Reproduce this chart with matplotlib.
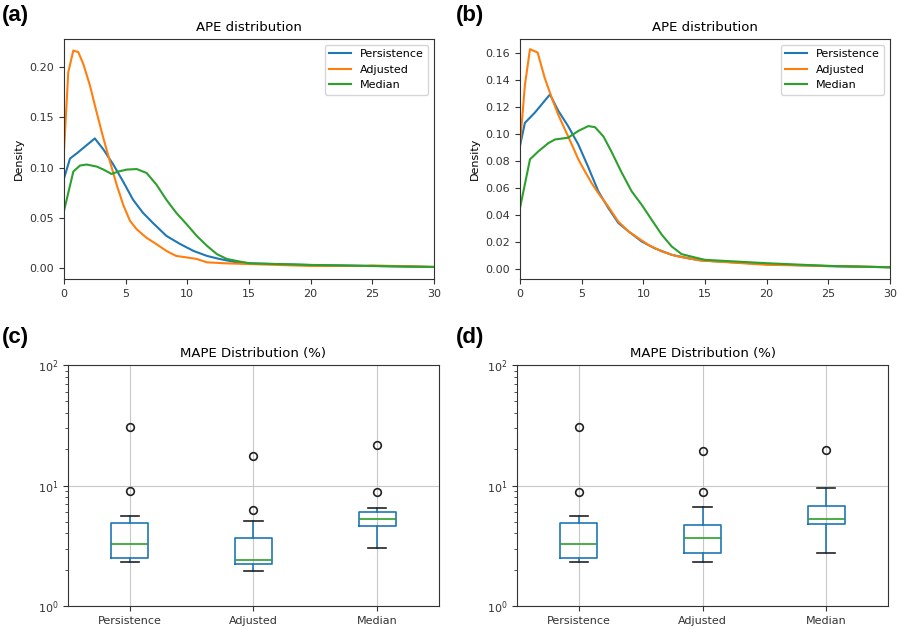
import matplotlib
matplotlib.use("Agg")
import matplotlib.pyplot as plt

plt.rcParams["font.size"] = 8
plt.rcParams["axes.edgecolor"] = "#333333"
plt.rcParams["xtick.color"] = "#333333"
plt.rcParams["ytick.color"] = "#333333"

series_names = ["Persistence", "Adjusted", "Median"]
line_colors = ["#1f77b4", "#ff7f0e", "#2ca02c"]

# (a) APE density curves
a_pers_x = [0, 0.49, 1.03, 2.5, 3.2, 4.0, 4.8, 5.6, 6.4, 7.2, 8.3, 9.4, 10.5, 11.6, 12.6, 14.0, 15.1, 20, 25, 30]
a_pers_y = [0.089, 0.109, 0.114, 0.129, 0.118, 0.103, 0.086, 0.068, 0.055, 0.045, 0.032, 0.024, 0.017, 0.012, 0.009, 0.0056, 0.0046, 0.003, 0.002, 0.001]
a_adj_x = [0, 0.35, 0.76, 1.16, 1.57, 2.1, 2.65, 3.2, 3.73, 4.27, 4.8, 5.35, 5.9, 6.7, 7.5, 8.3, 9.1, 9.95, 10.76, 11.6, 13.2, 14.8, 20, 24.5, 25, 30]
a_adj_y = [0.116, 0.195, 0.2165, 0.215, 0.203, 0.182, 0.155, 0.129, 0.106, 0.083, 0.063, 0.047, 0.0385, 0.030, 0.0237, 0.017, 0.012, 0.0105, 0.009, 0.0056, 0.0046, 0.004, 0.002, 0.002, 0.0025, 0.001]
a_med_x = [0, 0.76, 1.3, 1.84, 2.65, 3.2, 3.86, 4.4, 5.1, 5.9, 6.7, 7.5, 8.3, 9.1, 9.95, 10.76, 11.6, 12.4, 13.2, 14.3, 15.1, 20, 25, 30]
a_med_y = [0.0567, 0.096, 0.102, 0.103, 0.101, 0.098, 0.0936, 0.096, 0.098, 0.0985, 0.0946, 0.083, 0.068, 0.055, 0.0435, 0.032, 0.022, 0.0138, 0.009, 0.0063, 0.0046, 0.003, 0.002, 0.001]

# (b) APE density curves
b_pers_x = [0, 0.4, 1.2, 2.43, 3.1, 3.9, 4.73, 5.5, 6.35, 7.16, 7.97, 8.8, 9.86, 10.9, 12.3, 13.6, 14.7, 20, 25, 30]
b_pers_y = [0.091, 0.108, 0.1155, 0.129, 0.117, 0.1056, 0.092, 0.076, 0.0574, 0.045, 0.034, 0.0277, 0.0203, 0.0153, 0.0104, 0.0079, 0.0062, 0.0035, 0.002, 0.0012]
b_adj_x = [0, 0.4, 0.81, 1.43, 2.0, 2.57, 3.1, 3.65, 4.2, 4.73, 5.27, 5.8, 6.35, 7.16, 7.97, 8.8, 9.6, 10.4, 11.5, 12.6, 13.6, 14.7, 20, 25, 30]
b_adj_y = [0.092, 0.136, 0.1625, 0.160, 0.1414, 0.1266, 0.114, 0.103, 0.092, 0.081, 0.072, 0.0636, 0.056, 0.046, 0.035, 0.0277, 0.0227, 0.0178, 0.0129, 0.0096, 0.0079, 0.0062, 0.003, 0.0022, 0.0012]
b_med_x = [0, 0.81, 1.5, 2.3, 2.84, 3.9, 4.73, 5.54, 6.08, 6.76, 7.4, 8.2, 9.05, 9.86, 10.7, 11.5, 12.3, 13.1, 14.2, 15.0, 20, 25, 30]
b_med_y = [0.045, 0.081, 0.087, 0.093, 0.0957, 0.097, 0.102, 0.1056, 0.1048, 0.098, 0.087, 0.072, 0.0574, 0.0475, 0.036, 0.0252, 0.0166, 0.0109, 0.0084, 0.0067, 0.0042, 0.0022, 0.0012]

# (c) / (d) MAPE box statistics: whislo, q1, med, q3, whishi, outliers
c_whislo = [2.31, 1.97, 3.03]
c_q1 = [2.52, 2.22, 4.65]
c_med = [3.25, 2.43, 5.25]
c_q3 = [4.86, 3.67, 6.0]
c_whishi = [5.63, 5.05, 6.52]
c_fliers = [[8.97, 30.5], [6.24, 17.6], [8.75, 21.8]]

d_whislo = [2.31, 2.31, 2.74]
d_q1 = [2.52, 2.74, 4.83]
d_med = [3.25, 3.70, 5.25]
d_q3 = [4.86, 4.74, 6.78]
d_whishi = [5.63, 6.65, 9.56]
d_fliers = [[8.9, 30.5], [8.75, 19.5], [19.9]]


def density_panel(ax, curves, ylim, yticks):
    for (xs, ys), name, col in zip(curves, series_names, line_colors):
        ax.plot(xs, ys, color=col, lw=1.5, label=name)
    ax.set_xlim(0, 30)
    ax.set_ylim(*ylim)
    ax.set_yticks(yticks)
    ax.set_ylabel("Density")
    ax.set_title("APE distribution", fontsize=9.5)
    ax.legend(loc="upper right", fontsize=8)


def box_panel(ax, whislo, q1, med, q3, whishi, fliers):
    stats = []
    for i, name in enumerate(series_names):
        stats.append(dict(label=name, whislo=whislo[i], q1=q1[i], med=med[i],
                          q3=q3[i], whishi=whishi[i], fliers=fliers[i]))
    ax.bxp(stats, widths=0.3,
           boxprops=dict(color="#1f77b4", lw=1.2),
           whiskerprops=dict(color="#1f77b4", lw=1.2),
           capprops=dict(color="#222222", lw=1.2),
           medianprops=dict(color="#2ca02c", lw=1.2),
           flierprops=dict(marker="o", markerfacecolor="none",
                           markeredgecolor="#222222", markersize=5.5, markeredgewidth=1.2))
    ax.set_yscale("log")
    ax.set_ylim(1, 100)
    ax.grid(True, color="#c8c8c8", lw=0.8)
    ax.set_axisbelow(True)
    ax.set_title("MAPE Distribution (%)", fontsize=9.5)


fig = plt.figure(figsize=(8.97, 6.3), dpi=100)
ax_a = fig.add_axes([0.0713, 0.5571, 0.4125, 0.381])
ax_b = fig.add_axes([0.5797, 0.5571, 0.4125, 0.381])
ax_c = fig.add_axes([0.0758, 0.0381, 0.4136, 0.3825])
ax_d = fig.add_axes([0.5764, 0.0381, 0.4136, 0.3825])

density_panel(ax_a, [(a_pers_x, a_pers_y), (a_adj_x, a_adj_y), (a_med_x, a_med_y)],
              (-0.011, 0.228), [0, 0.05, 0.10, 0.15, 0.20])
density_panel(ax_b, [(b_pers_x, b_pers_y), (b_adj_x, b_adj_y), (b_med_x, b_med_y)],
              (-0.0075, 0.17), [0, 0.02, 0.04, 0.06, 0.08, 0.10, 0.12, 0.14, 0.16])
box_panel(ax_c, c_whislo, c_q1, c_med, c_q3, c_whishi, c_fliers)
box_panel(ax_d, d_whislo, d_q1, d_med, d_q3, d_whishi, d_fliers)

for label, x, y in [("(a)", 0.002, 0.975), ("(b)", 0.508, 0.975),
                    ("(c)", 0.002, 0.465), ("(d)", 0.508, 0.465)]:
    fig.text(x, y, label, fontsize=16, fontweight="bold", family="Liberation Sans",
             va="center", ha="left")

fig.savefig("out.png", dpi=100)
